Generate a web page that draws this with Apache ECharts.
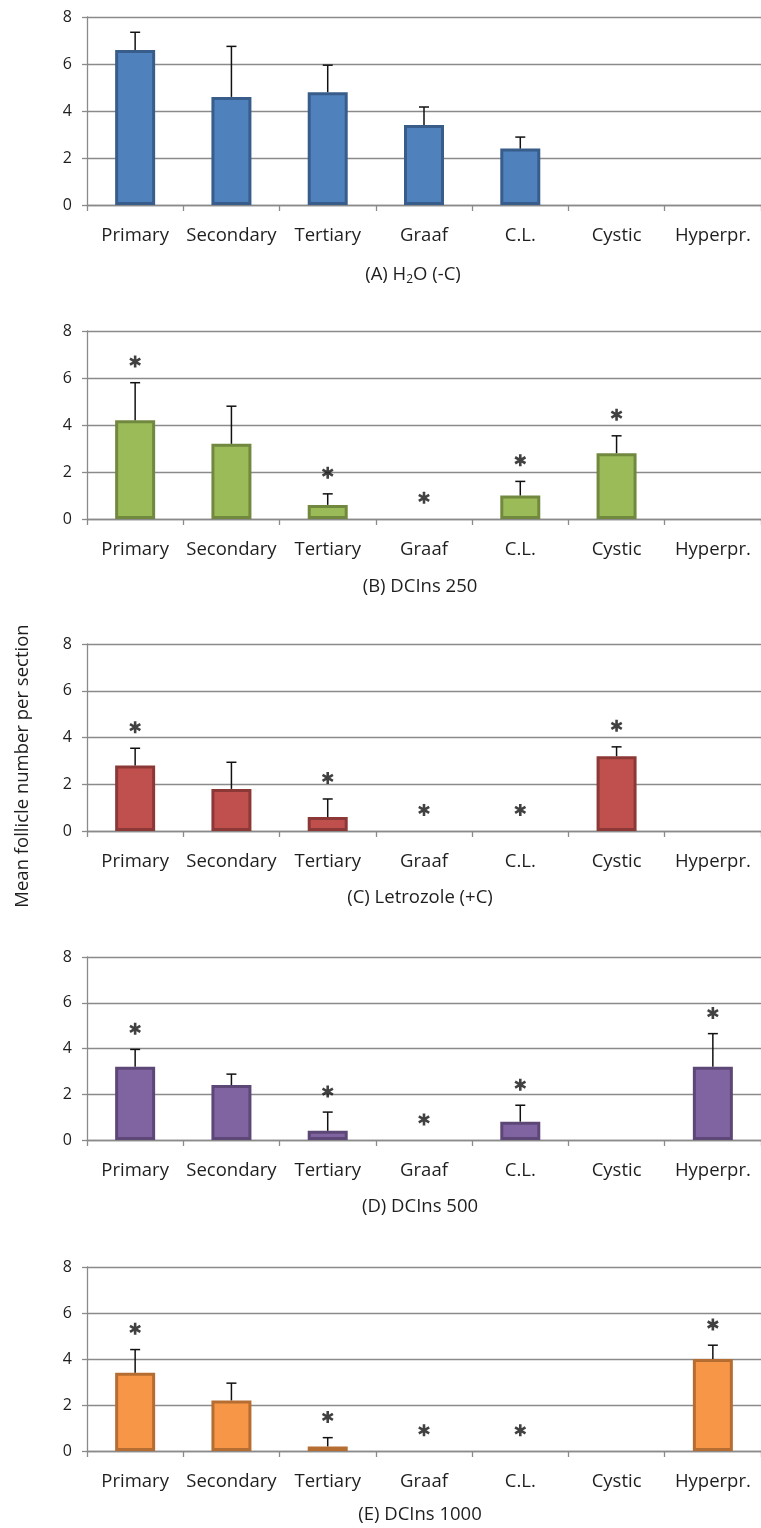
<!DOCTYPE html>
<html>
<head>
<meta charset="utf-8">
<script src="https://cdn.jsdelivr.net/npm/echarts@6/dist/echarts.min.js"></script>
<style>
html,body{margin:0;padding:0;background:#fff;}
#chart{width:761px;height:1528px;}
</style>
</head>
<body>
<div id="chart"></div>
<script>
// ---------- data ----------
const categories = ['Primary', 'Secondary', 'Tertiary', 'Graaf', 'C.L.', 'Cystic', 'Hyperpr.'];
const yMin = 0, yMax = 8, yStep = 2;
const yAxisTitle = 'Mean follicle number per section';

const titleA = '(A) H{sub|2}O (-C)';
const meanA = [6.6, 4.6, 4.8, 3.4, 2.4, 0, 0];
const sdA   = [0.75, 2.15, 1.15, 0.77, 0.49, 0, 0];
const sigA  = [0, 0, 0, 0, 0, 0, 0];

const titleB = '(B) DCIns 250';
const meanB = [4.2, 3.2, 0.6, 0, 1.0, 2.8, 0];
const sdB   = [1.6, 1.6, 0.47, 0, 0.6, 0.74, 0];
const sigB  = [1, 0, 1, 1, 1, 1, 0];

const titleC = '(C) Letrozole (+C)';
const meanC = [2.8, 1.8, 0.6, 0, 0, 3.2, 0];
const sdC   = [0.74, 1.14, 0.77, 0, 0, 0.4, 0];
const sigC  = [1, 0, 1, 1, 1, 1, 0];

const titleD = '(D) DCIns 500';
const meanD = [3.2, 2.4, 0.4, 0, 0.8, 0, 3.2];
const sdD   = [0.76, 0.48, 0.82, 0, 0.72, 0, 1.45];
const sigD  = [1, 0, 1, 1, 1, 0, 1];

const titleE = '(E) DCIns 1000';
const meanE = [3.4, 2.2, 0.2, 0, 0, 0, 4.0];
const sdE   = [1.01, 0.75, 0.38, 0, 0, 0, 0.6];
const sigE  = [1, 0, 1, 1, 1, 0, 1];

const starGap = 0.9; // distance of the asterisk above the error bar top, in data units

// ---------- layout / style ----------
const panels = [
  {title: titleA, mean: meanA, sd: sdA, sig: sigA, fill: '#4F81BD', border: '#385D8A', top: 17,  height: 188, titleX: 413, titleY: 275},
  {title: titleB, mean: meanB, sd: sdB, sig: sigB, fill: '#9BBB59', border: '#71893F', top: 331, height: 188, titleX: 420, titleY: 587},
  {title: titleC, mean: meanC, sd: sdC, sig: sigC, fill: '#C0504D', border: '#8C3836', top: 644, height: 187, titleX: 420, titleY: 898},
  {title: titleD, mean: meanD, sd: sdD, sig: sigD, fill: '#8064A2', border: '#5C4776', top: 957, height: 183, titleX: 420, titleY: 1207},
  {title: titleE, mean: meanE, sd: sdE, sig: sigE, fill: '#F79646', border: '#B66D31', top: 1267, height: 184, titleX: 420, titleY: 1515}
];

const FONT = 'Open Sans';
const TEXT = '#1e1e1e';
const GRIDC = '#8a8a8a';

const starPath = 'path://M-1.3,-6 L1.3,-6 L1.3,6 L-1.3,6 Z ' +
  'M4.546,-4.126 L5.846,-1.874 L-4.546,4.126 L-5.846,1.874 Z ' +
  'M-5.846,-1.874 L-4.546,-4.126 L5.846,1.874 L4.546,4.126 Z';

const grid = [], xAxis = [], yAxis = [], series = [], graphics = [];

panels.forEach((p, i) => {
  grid.push({left: 87, width: 680, top: p.top, height: p.height, containLabel: false});
  xAxis.push({
    type: 'category', gridIndex: i, data: categories,
    axisLine: {show: true, lineStyle: {color: GRIDC, width: 1.3}},
    axisTick: {show: true, length: 6, lineStyle: {color: GRIDC, width: 1.3}},
    axisLabel: {fontFamily: FONT, fontSize: 18.5, color: TEXT, margin: 21, interval: 0},
    splitLine: {show: false}
  });
  yAxis.push({
    type: 'value', gridIndex: i, min: yMin, max: yMax, interval: yStep,
    axisLine: {show: true, lineStyle: {color: GRIDC, width: 1.3}},
    axisTick: {show: true, length: 5, lineStyle: {color: GRIDC, width: 1.3}},
    axisLabel: {fontFamily: FONT, fontSize: 16, color: TEXT, margin: 15},
    splitLine: {show: true, lineStyle: {color: GRIDC, width: 1.3}}
  });
  graphics.push({
    type: 'text', x: p.titleX, y: p.titleY,
    style: {
      text: p.title, fontFamily: FONT, fontSize: 18.5, fill: TEXT,
      align: 'center', verticalAlign: 'middle',
      rich: {sub: {fontFamily: FONT, fontSize: 12, fill: TEXT, verticalAlign: 'bottom', padding: [9, 0, 0, 0]}}
    }
  });
  series.push({
    type: 'bar', xAxisIndex: i, yAxisIndex: i,
    data: p.mean.map(v => v > 0 ? v : '-'),
    barWidth: 40,
    itemStyle: {color: p.fill, borderColor: p.border, borderWidth: 3},
    z: 2, silent: true
  });
  series.push({
    type: 'custom', xAxisIndex: i, yAxisIndex: i,
    data: p.mean.map((v, k) => [k, v, p.sd[k]]),
    renderItem: function (params, api) {
      const k = api.value(0), m = api.value(1), s = api.value(2);
      if (!(s > 0)) return null;
      const a = api.coord([k, m]);
      const b = api.coord([k, m + s]);
      const st = {stroke: '#111', lineWidth: 1.5};
      return {
        type: 'group',
        children: [
          {type: 'line', shape: {x1: a[0], y1: a[1], x2: b[0], y2: b[1]}, style: st},
          {type: 'line', shape: {x1: b[0] - 5, y1: b[1], x2: b[0] + 5, y2: b[1]}, style: st}
        ]
      };
    },
    z: 3, silent: true
  });
  series.push({
    type: 'scatter', xAxisIndex: i, yAxisIndex: i,
    data: p.mean.map((v, k) => p.sig[k] ? [k, v + p.sd[k] + starGap] : null).filter(d => d),
    symbol: starPath, symbolSize: [12, 12], symbolKeepAspect: true,
    itemStyle: {color: '#111'},
    z: 4, silent: true
  });
});

graphics.push({
  type: 'text', x: 23, y: 766, rotation: Math.PI / 2,
  style: {text: yAxisTitle, fontFamily: FONT, fontSize: 18.5, fill: TEXT, align: 'center', verticalAlign: 'middle'}
});

const chart = echarts.init(document.getElementById('chart'), null, {renderer: 'canvas'});
chart.setOption({
  animation: false,
  backgroundColor: '#fff',
  grid: grid,
  xAxis: xAxis,
  yAxis: yAxis,
  series: series,
  graphic: graphics
});
</script>
</body>
</html>
